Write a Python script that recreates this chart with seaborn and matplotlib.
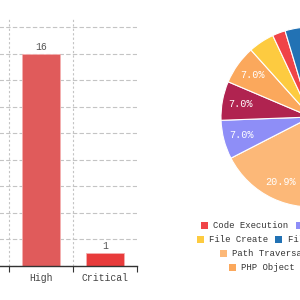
import matplotlib
matplotlib.use("Agg")
import matplotlib.pyplot as plt
from matplotlib.patches import Patch
import seaborn as sns

# bar chart (only the right part of the chart is in view)
bar_levels = ["High", "Critical"]
bar_counts = [16, 1]
bar_colors = ["#e05b5b", "#e83b3b"]

# pie chart, in drawing order (clockwise from 12 o'clock)
vuln_names = ["Cross Site Scripting", "Other", "Path Traversal", "Command Execution",
              "SQL Injection", "PHP Object Injection", "File Create",
              "Code Execution", "File Inclusion"]
vuln_counts = [11, 9, 9, 3, 3, 3, 2, 1, 2]
vuln_colors = ["#6fc3a0", "#9ad0e8", "#fcb878", "#8e8ef7",
               "#b02350", "#fba85c", "#fdcb40", "#f04448", "#2272b4"]

legend_rows = [["Code Execution", "Command Execution"],
               ["File Create", "File Inclusion"],
               ["Path Traversal", "Cross Site Scripting"],
               ["PHP Object Injection", "SQL Injection"]]

sns.set_theme(style="white")
plt.rcParams["font.family"] = ["Liberation Mono", "DejaVu Sans Mono"]

fig = plt.figure(figsize=(3, 3), dpi=100)

# ---- bar part
ax = fig.add_axes([-3.8 / 300, 34 / 300, 140.8 / 300, 247 / 300])
sns.barplot(x=bar_levels, y=bar_counts, hue=bar_levels, palette=bar_colors,
            saturation=1, width=0.6, legend=False, ax=ax,
            edgecolor="#f4b0b0", linewidth=0.6)
for c in ax.containers:
    ax.bar_label(c, fontsize=7, color="#555555", padding=1)
ax.set_xlim(-0.7, len(bar_levels) - 0.5)
ax.set_ylim(0, 18.6)
ax.set_yticks(range(0, 19, 2))
ax.set_yticklabels([])
ax.tick_params(axis="y", length=0)
ax.yaxis.grid(True, color="#c4c4c4", linestyle=(0, (4, 2)), linewidth=0.8)
ax.set_axisbelow(True)
for i in range(len(bar_levels)):
    ax.axvline(i - 0.5, color="#c4c4c4", linestyle=(0, (2, 2)), linewidth=0.8, zorder=0)
ax.set_xticks(range(len(bar_levels)))
ax.set_xticklabels(bar_levels, fontsize=7, color="#444444")
ax.set_xticks([i - 0.5 for i in range(len(bar_levels) + 1)], minor=True)
ax.tick_params(axis="x", which="major", length=0, pad=5)
ax.tick_params(axis="x", which="minor", length=4, width=0.8, color="#333333", bottom=True)
for s in ["top", "right", "left"]:
    ax.spines[s].set_visible(False)
ax.spines["bottom"].set_color("#333333")
ax.spines["bottom"].set_linewidth(1)
ax.set_xlabel("")
ax.set_ylabel("")

# ---- pie part
pax = fig.add_axes([221 / 300, 93 / 300, 180 / 300, 180 / 300])
wedges, texts, autotexts = pax.pie(
    vuln_counts, colors=vuln_colors, startangle=90, counterclock=False,
    autopct=lambda p: f"{p:.1f}%" if p > 5 else "", pctdistance=0.8,
    wedgeprops=dict(edgecolor="white", linewidth=0.8))
for t in autotexts:
    t.set_color("white")
    t.set_fontsize(7.3)
pax.set_xlim(-1, 1)
pax.set_ylim(-1, 1)
pax.set_aspect("equal")
pax.axis("off")

# ---- legend rows
color_of = dict(zip(vuln_names, vuln_colors))
row_x = [201, 196.5, 220, 229]
row_y = [226, 240, 254, 268]
for names, x0, y0 in zip(legend_rows, row_x, row_y):
    handles = [Patch(facecolor=color_of[n], edgecolor="none") for n in names]
    fig.legend(handles, names, loc="center left", ncol=len(names),
               bbox_to_anchor=(x0 / 300, 1 - y0 / 300), frameon=False,
               fontsize=6.4, handlelength=0.8, handleheight=0.8,
               handletextpad=0.6, columnspacing=0.8, borderpad=0,
               borderaxespad=0, labelcolor="#333333")

fig.savefig("out.png", dpi=100)
